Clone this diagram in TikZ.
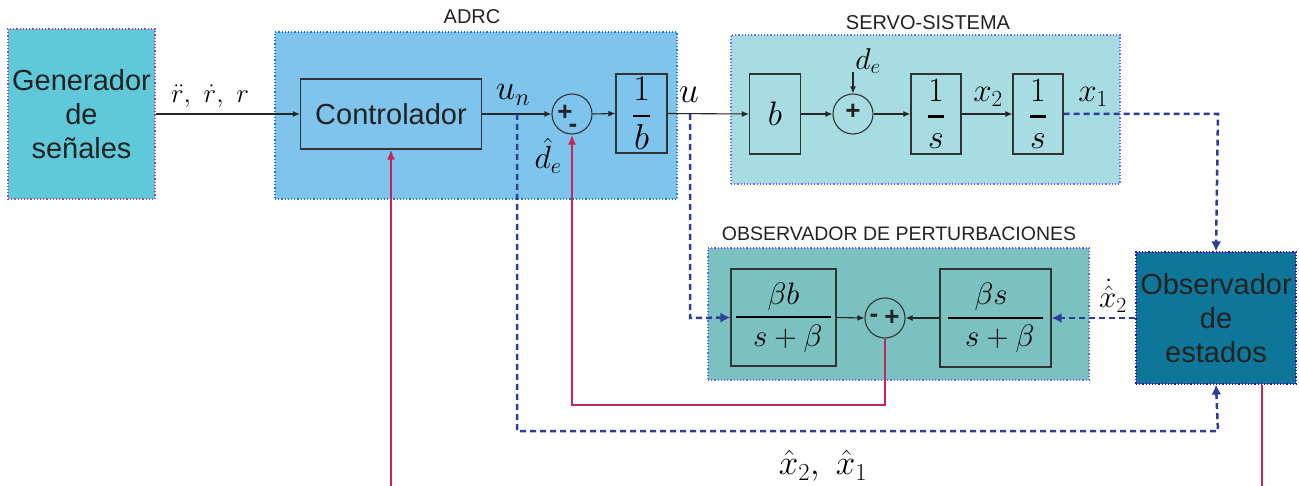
\RequirePackage{fix-cm}
\documentclass[tikz,border=0pt]{standalone}
\usepackage{amsmath}
\usepackage{fontspec}
\setsansfont{Liberation Sans}
\usetikzlibrary{arrows.meta}
\definecolor{genc}{HTML}{5FC9D9}
\definecolor{adrcc}{HTML}{7EC4EC}
\definecolor{servoc}{HTML}{A7DCE3}
\definecolor{pertc}{HTML}{7BC1BF}
\definecolor{obsc}{HTML}{0E7799}
\definecolor{bluel}{HTML}{2B3F96}
\definecolor{redl}{HTML}{C8245C}
\definecolor{txt}{HTML}{222222}
\newcommand{\fsz}[1]{\fontsize{#1}{#1}\selectfont}
\begin{document}
\begin{tikzpicture}[x=1pt,y=-1pt,
  grp/.style={draw=#1, dotted, line width=1.2pt, inner sep=0pt},
  blk/.style={draw=black!80, line width=1.2pt, inner sep=0pt},
  sumc/.style={circle, draw=black!80, line width=1.1pt, minimum size=40pt, inner sep=0pt},
  big/.style={font=\sffamily\fsz{29}\selectfont, text=txt, align=center},
  ttl/.style={font=\sffamily\fsz{20}, text=txt},
  sig/.style={-{Latex[length=7pt,width=6pt]}, line width=1.1pt, draw=black!85},
  est/.style={draw=bluel, line width=2.5pt, dash pattern=on 6pt off 4pt},
  esta/.style={est, -{Latex[length=10pt,width=10pt]}},
  rd/.style={draw=redl, line width=2pt},
  rda/.style={rd, -{Latex[length=10pt,width=8pt]}},
  sgn/.style={font=\sffamily\bfseries\fsz{26}, text=txt, inner sep=0pt}
]
\useasboundingbox (0,0) rectangle (1299,486);
% group boxes
\node[grp=violet!70, fill=genc, minimum width=147pt, minimum height=170pt, big] (gen) at (81.5,114)
  {\fsz{29}Generador\\[5pt]\fsz{29}de\\[5pt]\fsz{29}señales};
\node[grp=cyan!60!blue, fill=adrcc, minimum width=402pt, minimum height=167pt] (adrc) at (476,115.5) {};
\node[ttl] (adrct) at (472,17) {ADRC};
\node[grp=blue!60, fill=servoc, minimum width=389pt, minimum height=149pt] (servo) at (925.5,109.5) {};
\node[ttl] (servot) at (928,23) {SERVO-SISTEMA};
\node[grp=blue!60, fill=pertc, minimum width=381pt, minimum height=132pt] (pert) at (898.5,314) {};
\node[ttl, font=\sffamily\fsz{19.5}] (pertt) at (899,234) {OBSERVADOR DE PERTURBACIONES};
\node[grp=violet!60!blue, fill=obsc, minimum width=160pt, minimum height=132pt, big] (obs) at (1216,318)
  {\fsz{29}Observador\\[5pt]\fsz{29}de\\[5pt]\fsz{29}estados};
% blocks
\node[blk, minimum width=181pt, minimum height=70pt, big] (ctrl) at (391,114) {\fsz{29}Controlador};
\node[sumc] (s1) at (572,114) {};
\node[sgn] at (565,113) {+};
\node[sgn] at (573,128) {-};
\node[blk, minimum width=51pt, minimum height=79pt, font=\fsz{36}] (oneb) at (641.5,113.5) {$\genfrac{}{}{2.5pt}{0}{1}{b}$};
\node[blk, minimum width=51pt, minimum height=80pt, font=\fsz{34}] (bb) at (775,114) {$b$};
\node[sumc] (s2) at (853,114) {};
\node[sgn] at (853,112) {+};
\node[blk, minimum width=50pt, minimum height=80pt, font=\fsz{34}] (i1) at (936,114) {$\genfrac{}{}{3.5pt}{0}{1}{s}$};
\node[blk, minimum width=50pt, minimum height=80pt, font=\fsz{34}] (i2) at (1038,114) {$\genfrac{}{}{3.5pt}{0}{1}{s}$};
\node[blk, minimum width=105pt, minimum height=97pt, font=\fsz{31}] (fb) at (783.5,317.5) {$\genfrac{}{}{2pt}{0}{\beta b}{\;\;s+\beta\;}$};
\node[sumc] (s3) at (885,318) {};
\node[sgn] at (874,318) {-};
\node[sgn] at (892,318) {+};
\node[blk, minimum width=111pt, minimum height=98pt, font=\fsz{31}] (fs) at (995.5,318) {$\genfrac{}{}{2pt}{0}{\;\beta s\;\;}{\;\;s+\beta\;}$};
% auxiliary coordinates
\coordinate (un) at (517,114);
\coordinate (uu) at (690,114);
\coordinate (de) at (853,72);
\coordinate (xr) at (1218,114);
\coordinate (ud) at (690,318);
\coordinate (und) at (517,431);
\coordinate (unr) at (1218,431);
\coordinate (rd1) at (885,405);
\coordinate (rd2) at (572,405);
\coordinate (rb1) at (1262,486);
\coordinate (rb2) at (391,486);
% signal lines
\draw[sig] (gen.east) -- (ctrl.west);
\draw[sig] (ctrl.east) -- (s1.west);
\draw[sig] (s1.east) -- (oneb.west);
\draw[sig] (oneb.east) -- (bb.west);
\draw[sig] (bb.east) -- (s2.west);
\draw[sig] (de) -- (s2.north);
\draw[sig, line width=2.6pt] (s2.east) -- (i1.west);
\draw[sig] (i1.east) -- (i2.west);
\draw[sig] (fb.east) -- (s3.west);
\draw[sig] (fs.west) -- (s3.east);
% estimated (dashed) lines
\draw[esta] (i2.east) -- (xr) -- (obs.north);
\draw[esta] (obs.west) -- (fs.east);
\draw[esta] (uu) -- (ud) -- (fb.west);
\draw[esta] (un) -- (und) -- (unr) -- (obs.south);
% red lines
\draw[rda] (s3.south) -- (rd1) -- (rd2) -- (s1.south);
\draw[rd] (obs.south -| rb1) -- (rb1);
\draw[rda] (rb2) -- (ctrl.south);
% labels
\node[font=\fsz{27}] (lr) at (210,96) {$\ddot r,\ \dot r,\ r$};
\node[font=\fsz{35}] (lun) at (513,95) {$u_n$};
\node[font=\fsz{32}] (lde) at (548,156) {$\hat d_e$};
\node[font=\fsz{36}] (lu) at (689,95) {$u$};
\node[font=\fsz{30}] (lde2) at (868,61) {$d_e$};
\node[font=\fsz{33}] (lx2) at (988,97) {$x_2$};
\node[font=\fsz{33}] (lx1) at (1093,97) {$x_1$};
\node[font=\fsz{31}] (lxd) at (1113,296) {$\dot{\hat x}_2$};
\node[font=\fsz{35}] (lxh) at (823,466) {$\hat x_2,\ \hat x_1$};
\end{tikzpicture}
\end{document}
